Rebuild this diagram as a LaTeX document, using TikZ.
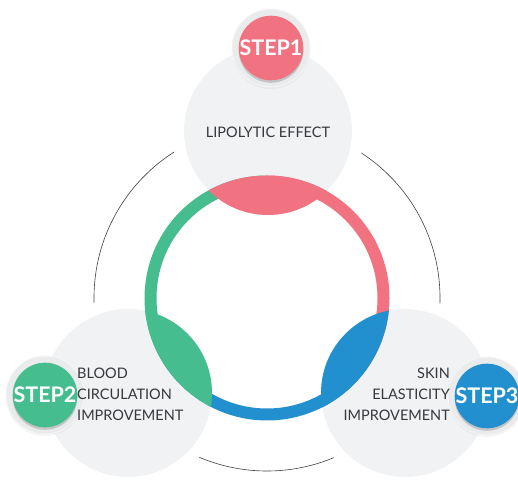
\documentclass[tikz,border=0pt]{standalone}
\usepackage{fontspec}
\setmainfont{Lato}
\usetikzlibrary{shadows}
\definecolor{rose}{RGB}{241,114,128}
\definecolor{mint}{RGB}{69,189,143}
\definecolor{sky}{RGB}{34,144,207}
\definecolor{mist}{RGB}{241,242,244}
\definecolor{ink}{RGB}{55,55,60}
\tikzset{
  disc/.style={circle,fill=mist,draw=white,line width=12pt,minimum size=180pt,inner sep=0pt},
  halo/.style={circle,fill=mist!97!black,draw=black!4,line width=1pt,minimum size=78pt,inner sep=0pt,
    drop shadow={opacity=0.08,shadow xshift=0pt,shadow yshift=-2pt}},
  badge/.style={circle,fill=#1,text=white,minimum size=62pt,inner sep=0pt,
    font=\fontsize{21.5}{21.5}\selectfont\bfseries,
    drop shadow={opacity=0.35,shadow xshift=0pt,shadow yshift=-2.5pt}},
  badge/.default=rose,
  steptext/.style={text=ink,inner sep=0pt,font=\fontsize{14.5}{21}\selectfont},
  band/.style={draw=#1,line width=12pt},
}
\begin{document}
\begin{tikzpicture}[x=1pt,y=1pt]
  \useasboundingbox (0,0) rectangle (518,481);
  \coordinate (o) at (267,183);
  % thin outer circle
  \draw[black!75,line width=0.6pt] (o) circle (173);
  % grey discs
  \node[disc] (c1) at (268,350) {};
  \node[disc] (c2) at (128,88) {};
  \node[disc] (c3) at (405,88) {};
  % coloured ring
  \draw[band=rose] ([shift={(90:116.5)}]o) arc[start angle=90,end angle=-34.5,radius=116.5];
  \draw[band=sky] ([shift={(-34.5:116.5)}]o) arc[start angle=-34.5,end angle=-145.7,radius=116.5];
  \draw[band=mint] ([shift={(-145.7:116.5)}]o) arc[start angle=214.3,end angle=90,radius=116.5];
  \begin{scope}
    \clip (o) circle (122.5);
    \fill[rose] (c1) circle (84);
    \fill[mint] (c2) circle (84);
    \fill[sky] (c3) circle (84);
  \end{scope}
  % badges
  \node[halo] (h1) at (271,433) {};
  \node[halo] (h2) at (45,86) {};
  \node[halo] (h3) at (487,85) {};
  \node[badge=rose] (s1) at (h1) {STEP1};
  \node[badge=mint] (s2) at (h2) {STEP2};
  \node[badge=sky] (s3) at (h3) {STEP3};
  % texts
  \node[steptext,align=center] (t1) at (268,349) {LIPOLYTIC EFFECT};
  \node[steptext,align=left,anchor=west] (t2) at (77,87) {BLOOD\\CIRCULATION\\IMPROVEMENT};
  \node[steptext,align=right,anchor=east] (t3) at (450,87) {SKIN\\ELASTICITY\\IMPROVEMENT};
\end{tikzpicture}
\end{document}
